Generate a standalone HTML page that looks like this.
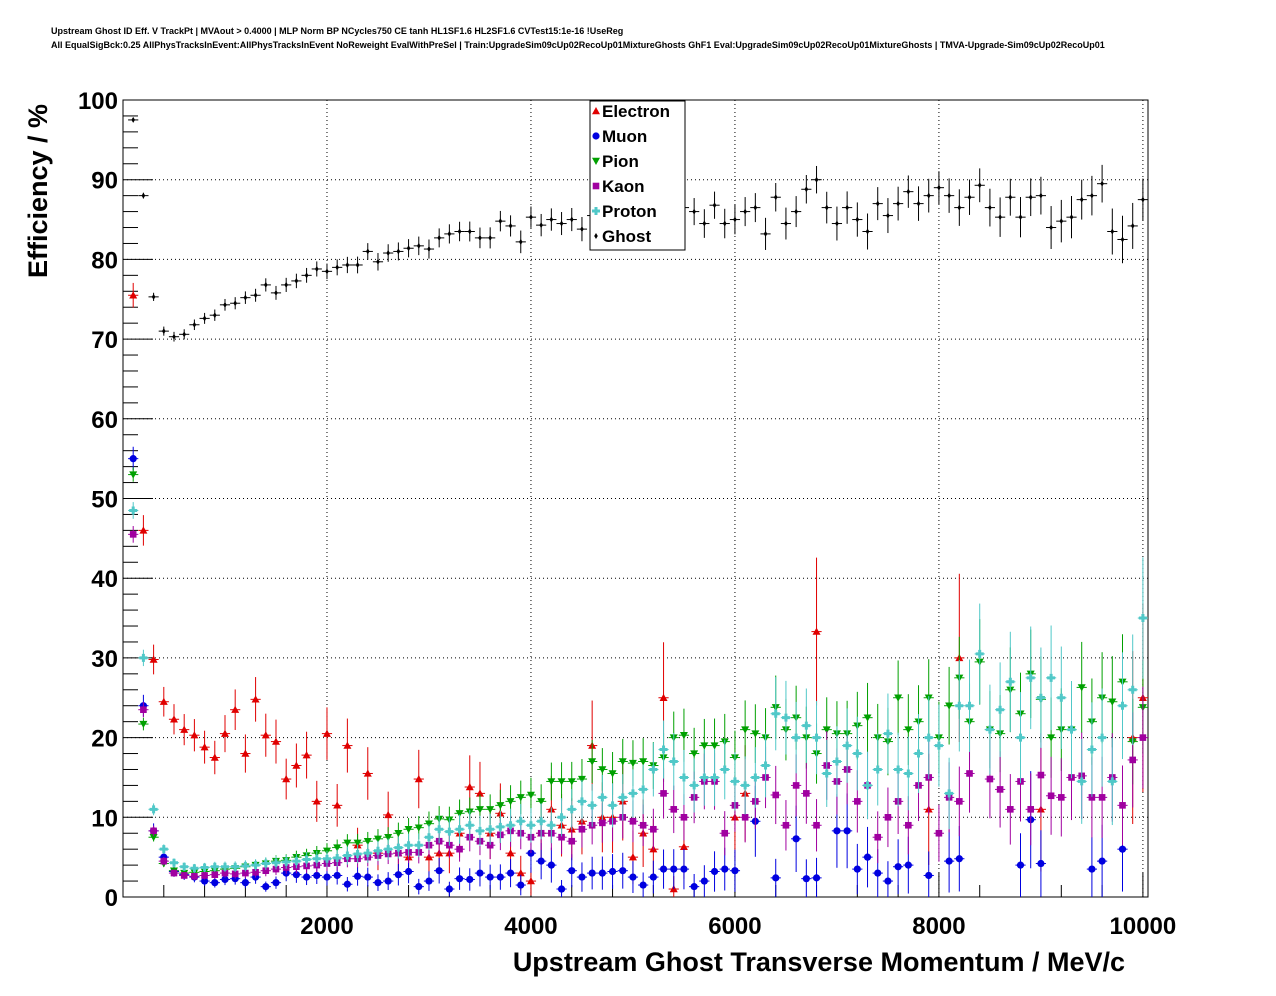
<!DOCTYPE html>
<html><head><meta charset="utf-8"><style>
body{margin:0;background:#fff;}
svg{display:block;font-family:"Liberation Sans",sans-serif;}
</style></head><body>
<svg id="chart" width="1276" height="996">
<rect width="1276" height="996" fill="#fff"/>
<text x="51" y="34" font-size="9" font-weight="bold">Upstream Ghost ID Eff. V TrackPt | MVAout &gt; 0.4000 | MLP Norm BP NCycles750 CE tanh HL1SF1.6 HL2SF1.6 CVTest15:1e-16 !UseReg</text>
<text x="51" y="48" font-size="9" font-weight="bold">All EqualSigBck:0.25 AllPhysTracksInEvent:AllPhysTracksInEvent NoReweight EvalWithPreSel | Train:UpgradeSim09cUp02RecoUp01MixtureGhosts GhF1 Eval:UpgradeSim09cUp02RecoUp01MixtureGhosts | TMVA-Upgrade-Sim09cUp02RecoUp01</text>
<g id="grid"></g>
<g id="axes"></g>
<g id="marks"></g>
<text transform="translate(47,278) rotate(-90)" font-size="27" font-weight="bold">Efficiency / %</text>
<text x="1125" y="971" text-anchor="end" font-size="27" font-weight="bold">Upstream Ghost Transverse Momentum / MeV/c</text>
<g id="legend"></g>
</svg>
<script>
const ghost=[97.5,88,75.3,71,70.3,70.6,71.8,72.6,73,74.3,74.5,75.2,75.5,76.8,75.8,76.8,77.3,78,78.8,78.5,79,79.3,79.3,81,79.7,80.8,81,81.4,81.7,81.3,82.7,83.2,83.5,83.5,82.7,82.7,84.8,84.2,82.2,85.3,84.3,85,84.5,85,83.8,85.5,85.5,86,86.5,86.8,85,86.5,85.5,86,86.5,86,84.5,86.8,84.5,85,86,86.5,83.2,87.8,84.5,86,88.8,90,86.5,84.5,86.5,85,83.5,87,85.5,87,88.5,87,88,89,88,86.5,87.8,89.3,86.5,85.3,87.8,85.3,87.8,88,84,84.8,85.3,87.5,88,89.5,83.5,82.5,84.2,87.5];
const electron=[75.5,46,29.8,24.5,22.3,21,20.3,18.8,17.5,20.5,23.5,18,24.8,20.3,19.5,14.8,16.5,17.8,12,20.5,11.5,19,6.5,15.5,5.5,10.3,5.5,5,14.8,5,5.5,5.5,8,13.8,13,8,10.5,5.5,3,2,8,11,9,8.5,9.5,19,10,10,12,5,8,6,25,1,6.3,null,null,null,null,10,13,null,null,null,null,null,null,33.3,null,null,null,null,null,null,null,null,null,null,11,null,null,30,null,null,null,null,null,null,null,11,null,null,null,null,null,null,null,null,20,25];
const muon=[55,24,8.3,5,3.2,2.8,2.5,2,1.8,2.2,2.3,1.8,2.5,1.3,1.8,3,2.8,2.5,2.7,2.5,2.7,1.6,2.6,2.5,1.8,2,2.8,3.2,1.3,2,3.3,1,2.3,2.2,3,2.5,2.5,3,1.5,5.5,4.5,4,1,3.3,2.5,3,3,3.2,3.3,2.5,1.5,2.5,3.5,3.5,3.5,1.3,2,3.2,3.5,3.3,null,9.5,null,2.4,null,7.3,2.3,2.4,null,8.3,8.3,3.5,5,3,2,3.8,4,null,2.7,null,4.5,4.8,null,null,null,null,null,4,9.7,4.2,null,null,null,null,3.5,4.5,null,6,null,null];
const pion=[53,21.7,7.5,4.2,3.3,3,3.1,3.2,3.3,3.5,3.6,3.8,4,4.2,4.5,4.6,5,5.2,5.5,5.8,6.2,6.8,6.8,7,7.3,7.5,8,8.5,8.7,9.2,9.8,9.7,10.5,10.7,11,11,11.5,12,12.5,12.8,12,14.5,14.5,14.5,14.8,17,16,15.5,17,16.8,17,16.5,17.5,20,20.3,18,19,19,19.5,17.5,21,20.5,20,23.8,21,22.5,20,18,21,20.5,20.5,21.5,22.5,20,19.5,25,21,22,25,20,24,27.5,22,29.5,21,20.5,26,23,28,24.8,20,21,21,26.3,22,25,24.5,27,19.5,23.8];
const kaon=[45.5,23.5,8.3,4.5,3,2.7,2.6,2.7,2.8,3,2.9,3,3.1,3.3,3.5,3.7,3.8,3.9,4,4.2,4.3,4.8,4.8,5,5.2,5.4,5.5,5.6,5.6,6.5,7,6.5,6,7.5,7,6.5,7.8,8.3,8,7.5,8,8,7.5,7,8.5,9,9.3,9.5,10,9.5,9,8.5,13,11,10,12.5,14.5,14.5,8,11.5,10,12,15,12.8,9,14,13,9,16.5,14.5,16,12,14,7.5,10,12,9,14,15,8,12.5,12,15.5,null,14.8,13.5,11,14.5,11,15.3,12.7,12.5,15,15.2,12.5,12.5,15,11.5,17.2,20];
const proton=[48.5,30,11,6,4.3,3.8,3.6,3.7,3.8,3.8,3.8,3.9,4,4.2,4.3,4.4,4.5,4.7,4.8,4.8,4.9,5.2,5.4,5.5,5.8,6,6.2,6.5,6.5,7.5,8.5,8.2,8.5,9,8.3,8.5,8.8,9,9.5,9,9.5,9,10,11,12,11.5,12.5,11.5,12.5,13,13.5,16,18.5,17,15,14,15,15,16,14.5,14,15,16.5,23,22.5,20,21.5,20,15.5,17,19,18,14,16,20.5,16,15.5,18,20,19,13,24,24,30.5,21,23.5,27,20,27.5,25,27.5,25,21,14.5,18.5,20,14.5,24,26,35];
const xTicks=[2000,4000,6000,8000,10000];
const yTicks=[0,10,20,30,40,50,60,70,80,90,100];
const binWidth=100;

const NS="http://www.w3.org/2000/svg";
const L=123,R=1148,T=100,B=897,XMAX=10050;
const xs=v=>L+(v/XMAX)*(R-L);
const ys=v=>B-(v/100)*(B-T);
function mk(tag,attrs,parent){const e=document.createElementNS(NS,tag);for(const k in attrs)e.setAttribute(k,attrs[k]);parent.appendChild(e);return e;}
const grid=document.getElementById('grid'),axes=document.getElementById('axes'),marks=document.getElementById('marks'),legend=document.getElementById('legend');

yTicks.forEach(t=>{
  if(t>0&&t<100){const g=mk('line',{x1:L,x2:R,y1:ys(t),y2:ys(t),stroke:'#000','stroke-width':1,'stroke-dasharray':'1,3'},grid);
  
  }
  const tk=mk('line',{x1:L,x2:L+30,y1:ys(t),y2:ys(t),stroke:'#000'},axes);
  
  
  const lb=mk('text',{x:118,y:ys(t)+9,'text-anchor':'end','font-size':24,'font-weight':'bold'},axes);
  lb.textContent=t;
  
  
});
for(let t=2;t<100;t+=2){if(t%10)mk('line',{x1:L,x2:L+15,y1:ys(t),y2:ys(t),stroke:'#000'},axes);}
xTicks.forEach(t=>{
  const g=mk('line',{x1:xs(t),x2:xs(t),y1:T,y2:B,stroke:'#000','stroke-width':1,'stroke-dasharray':'1,3'},grid);
  
  
  mk('line',{x1:xs(t),x2:xs(t),y1:B,y2:B-24,stroke:'#000'},axes);
  const lb=mk('text',{x:xs(t),y:934,'text-anchor':'middle','font-size':24,'font-weight':'bold'},axes);
  lb.textContent=t;
  
  
});
for(let t=400;t<XMAX;t+=400){if(t%2000)mk('line',{x1:xs(t),x2:xs(t),y1:B,y2:B-12,stroke:'#000'},axes);}
mk('rect',{x:L,y:T,width:R-L,height:B-T,fill:'none',stroke:'#000'},axes);

function marker(shape,color,cx,cy,parent){
  const s=4;
  if(shape==='tu')return mk('polygon',{points:`${cx},${cy-s} ${cx-s},${cy+s*0.8} ${cx+s},${cy+s*0.8}`,fill:color},parent);
  if(shape==='td')return mk('polygon',{points:`${cx},${cy+s} ${cx-s},${cy-s*0.8} ${cx+s},${cy-s*0.8}`,fill:color},parent);
  if(shape==='c')return mk('circle',{cx:cx,cy:cy,r:3.6,fill:color},parent);
  if(shape==='sq')return mk('rect',{x:cx-3.3,y:cy-3.3,width:6.6,height:6.6,fill:color},parent);
  if(shape==='pl')return mk('path',{d:`M${cx-1.5} ${cy-4}h3v2.5h2.5v3h-2.5v2.5h-3v-2.5h-2.5v-3h2.5z`,fill:color},parent);
  return mk('polygon',{points:`${cx},${cy-3} ${cx-1.8},${cy} ${cx},${cy+3} ${cx+1.8},${cy}`,fill:color},parent);
}
const series=[
 {name:'Electron',data:electron,color:'#e00000',shape:'tu',k:1.2},
 {name:'Muon',data:muon,color:'#0000e0',shape:'c',k:1.0},
 {name:'Pion',data:pion,color:'#00a000',shape:'td',k:0.6},
 {name:'Kaon',data:kaon,color:'#a000a0',shape:'sq',k:0.7},
 {name:'Proton',data:proton,color:'#50c8c8',shape:'pl',k:0.7},
 {name:'Ghost',data:ghost,color:'#000',shape:'d',k:0.35}
];
series.forEach(s=>{
  const g=mk('g',{},marks);
  
  
  s.data.forEach((v,i)=>{
    if(v===null)return;
    const x=(i+1)*binWidth,cx=xs(x),cy=ys(v);
    const err=s.k*Math.sqrt(Math.max(v*(100-v),20)/100)*(0.3+i*0.02);
    mk('line',{x1:cx,x2:cx,y1:ys(Math.min(100,v+err)),y2:ys(Math.max(0,v-err)),stroke:s.color,'stroke-width':1},g);
    mk('line',{x1:xs(x-binWidth/2),x2:xs(x+binWidth/2),y1:cy,y2:cy,stroke:s.color,'stroke-width':1},g);
    const m=marker(s.shape,s.color,cx,cy,g);
    
    
  });
});
mk('rect',{x:590,y:101,width:95,height:149,fill:'#fff',stroke:'#000'},legend);
series.forEach((s,i)=>{
  const y=111+i*25;
  const e=mk('g',{},legend);
  
  
  marker(s.shape,s.color,596,y,e);
  const t=mk('text',{x:602,y:y+6,'font-size':17,'font-weight':'bold'},e);
  t.textContent=s.name;
});
</script>
</body></html>
